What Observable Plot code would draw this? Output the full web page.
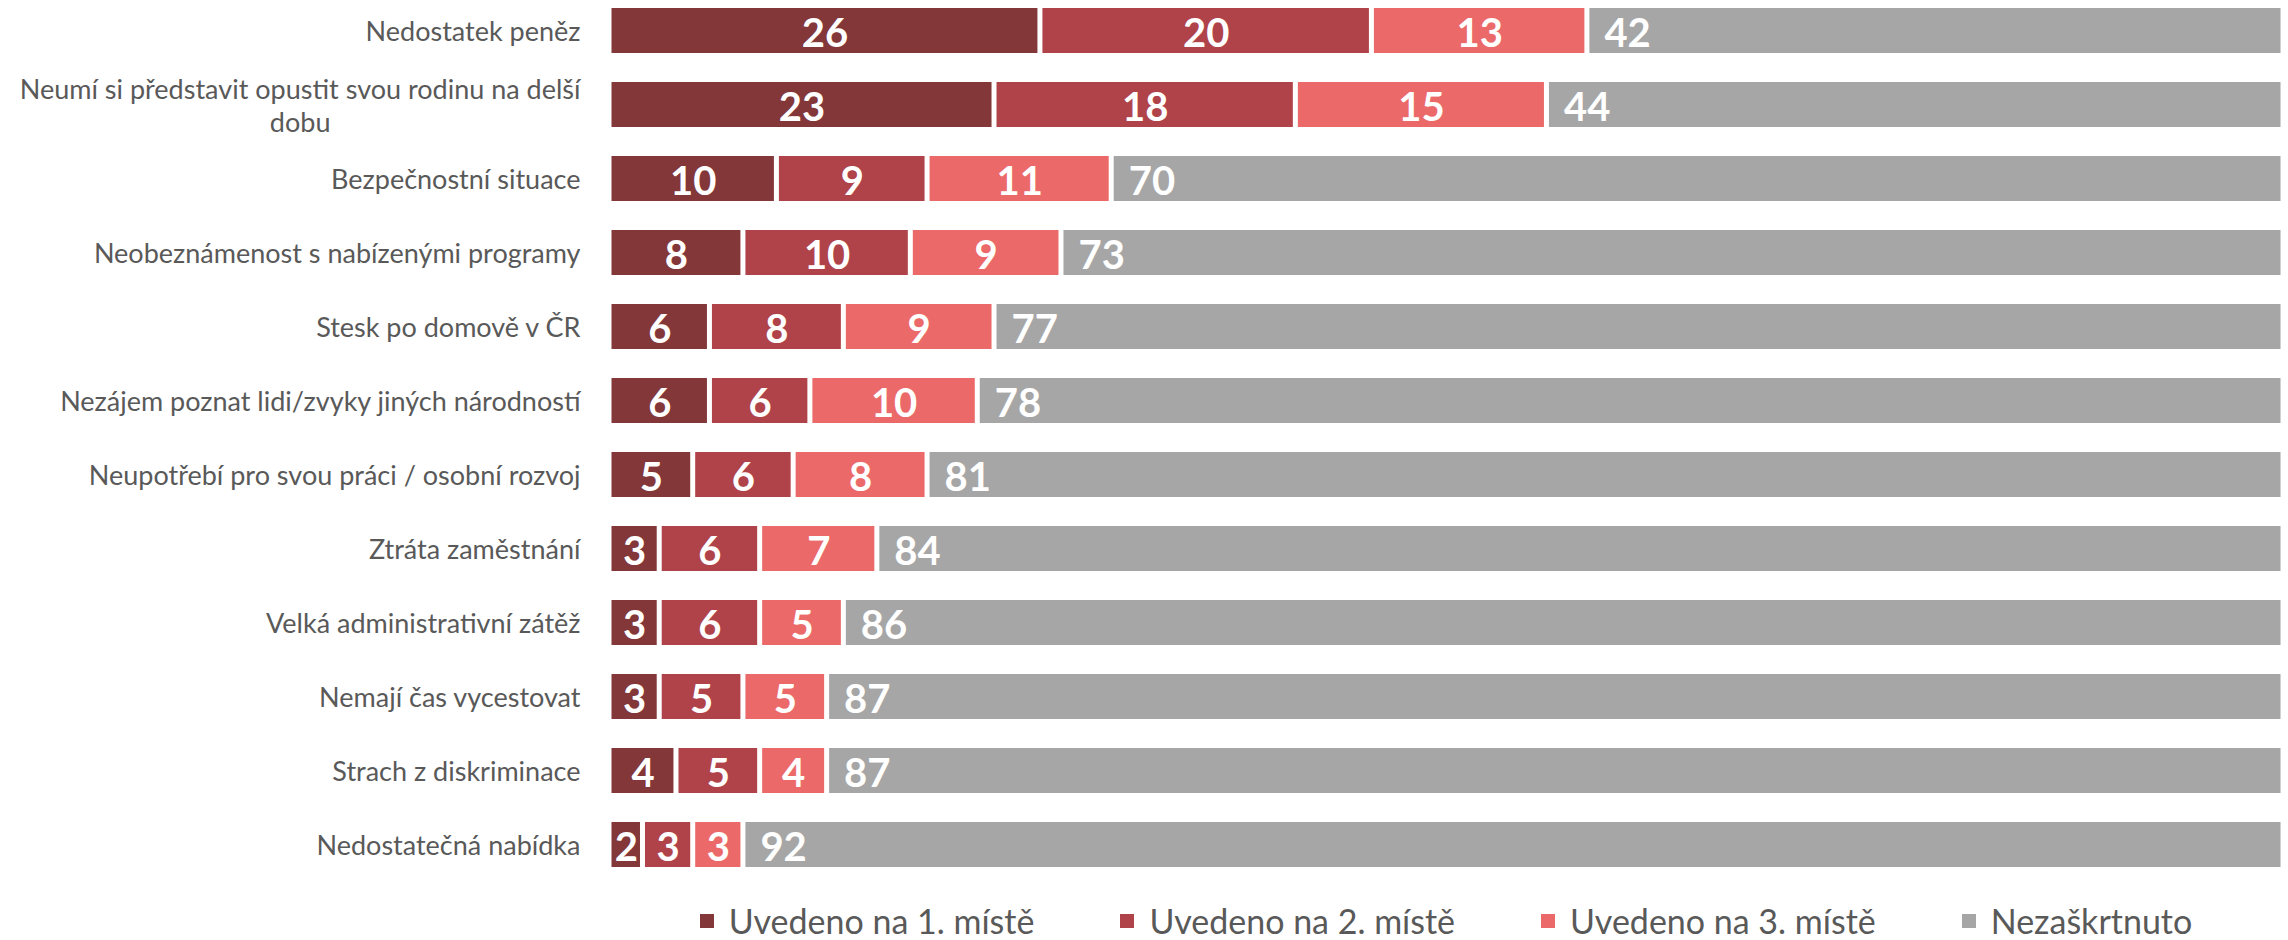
<!DOCTYPE html>
<html>
<head>
<meta charset="utf-8">
<script src="https://cdn.jsdelivr.net/npm/d3@7"></script>
<script src="https://cdn.jsdelivr.net/npm/@observablehq/plot@0.6"></script>
<style>
  html, body { margin: 0; padding: 0; background: #fff; }
  #chart { position: relative; width: 2288px; height: 940px; overflow: hidden; }
  #legend { position: absolute; left: 609px; width: 1674px; top: 903px; height: 36px;
            display: flex; justify-content: center; align-items: center; gap: 86px;
            font-family: Lato, "Open Sans", sans-serif; font-size: 34px; line-height: 36px; color: #595959; }
  #legend .item { display: flex; align-items: center; white-space: nowrap; height: 36px; }
  #legend .sw { width: 14px; height: 14px; margin-right: 15px; flex: none; }
</style>
</head>
<body>
<div id="chart"></div>
<script>
const categories = [
  "Nedostatek peněz",
  "Neumí si představit opustit svou rodinu na delší dobu",
  "Bezpečnostní situace",
  "Neobeznámenost s nabízenými programy",
  "Stesk po domově v ČR",
  "Nezájem poznat lidi/zvyky jiných národností",
  "Neupotřebí pro svou práci / osobní rozvoj",
  "Ztráta zaměstnání",
  "Velká administrativní zátěž",
  "Nemají čas vycestovat",
  "Strach z diskriminace",
  "Nedostatečná nabídka"
];
const tickLabels = [
  "Nedostatek peněz",
  "Neumí si představit opustit svou rodinu na delší\ndobu",
  "Bezpečnostní situace",
  "Neobeznámenost s nabízenými programy",
  "Stesk po domově v ČR",
  "Nezájem poznat lidi/zvyky jiných národností",
  "Neupotřebí pro svou práci / osobní rozvoj",
  "Ztráta zaměstnání",
  "Velká administrativní zátěž",
  "Nemají čas vycestovat",
  "Strach z diskriminace",
  "Nedostatečná nabídka"
];
const series = ["Uvedeno na 1. místě", "Uvedeno na 2. místě", "Uvedeno na 3. místě", "Nezaškrtnuto"];
const colors = ["#833739", "#B0434A", "#EB6A69", "#A6A6A6"];
const first     = [26, 23, 10, 8, 6, 6, 5, 3, 3, 3, 4, 2];
const second    = [20, 18, 9, 10, 8, 6, 6, 6, 6, 5, 5, 3];
const third     = [13, 15, 11, 9, 9, 10, 8, 7, 5, 5, 4, 3];
const unchecked = [42, 44, 70, 73, 77, 78, 81, 84, 86, 87, 87, 92];

const valuesBySeries = [first, second, third, unchecked];
const data = [];
series.forEach((s, si) => {
  categories.forEach((c, ci) => {
    data.push({category: c, series: s, value: valuesBySeries[si][ci]});
  });
});
const grey = series[3];

const stackOpts = {x: "value", y: "category", z: "series", offset: "normalize", order: null};

const plot = Plot.plot({
  width: 2288,
  height: 874,
  marginLeft: 609,
  marginRight: 5,
  marginTop: 0,
  marginBottom: 0,
  style: {background: "#fff", fontFamily: "Lato, 'Open Sans', sans-serif"},
  x: {domain: [0, 1], axis: null},
  y: {domain: categories, paddingInner: 0.393, paddingOuter: 0.0945, label: null},
  color: {domain: series, range: colors},
  marks: [
    Plot.barX(data, Plot.stackX({...stackOpts, fill: "series", insetLeft: 2.5, insetRight: 2.5})),
    Plot.text(data, Plot.stackX({
      ...stackOpts,
      text: d => d.series === grey ? "" : String(d.value),
      fill: "#fff", fontSize: 40, fontWeight: 700, dy: 3, textAnchor: "middle"
    })),
    Plot.text(data, Plot.stackX1({
      ...stackOpts,
      text: d => d.series === grey ? String(d.value) : "",
      fill: "#fff", fontSize: 40, fontWeight: 700, dy: 3, dx: 17, textAnchor: "start"
    })),
    Plot.axisY({
      tickSize: 0, tickPadding: 29, fontSize: 27, lineHeight: 1.2,
      fill: "#595959", label: null,
      tickFormat: d => tickLabels[categories.indexOf(d)]
    })
  ]
});

const chart = document.getElementById("chart");
chart.appendChild(plot);

// center multi-line tick labels (as in the original, wrapped lines are centered)
d3.select(plot).selectAll("text").each(function() {
  const tspans = this.querySelectorAll("tspan");
  if (tspans.length > 1) {
    let w = 0;
    tspans.forEach(t => { w = Math.max(w, t.getComputedTextLength()); });
    this.setAttribute("text-anchor", "middle");
    const tr = this.getAttribute("transform") || "";
    this.setAttribute("transform", tr + ` translate(${-w / 2},0)`);
  }
});

// legend
const legend = d3.select(chart).append("div").attr("id", "legend");
series.forEach((s, i) => {
  const item = legend.append("div").attr("class", "item");
  item.append("div").attr("class", "sw").style("background", colors[i]);
  item.append("span").text(s);
});
</script>
</body>
</html>
